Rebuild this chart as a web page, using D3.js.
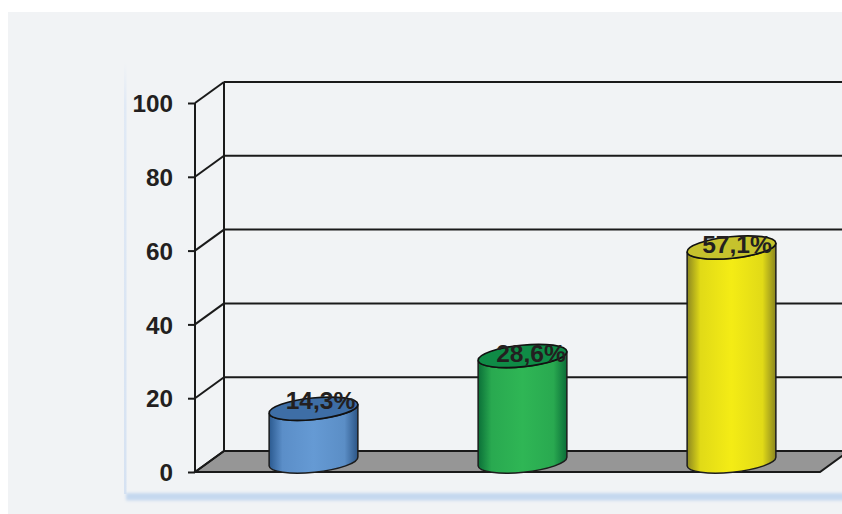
<!DOCTYPE html>
<html>
<head>
<meta charset="utf-8">
<script src="https://cdn.jsdelivr.net/npm/d3@7.9.0/dist/d3.min.js"></script>
<style>
  html, body { margin: 0; padding: 0; background: #fff; overflow: hidden; }
  svg { display: block; font-family: "Liberation Sans", Arial, sans-serif; }
  .axis path { display: none; }
  .axis line, .wall { stroke: #1a1a1a; stroke-width: 2; }
  .axis text { font-size: 24.3px; font-weight: bold; fill: #231f20; }
  .label { font-size: 24.6px; font-weight: bold; fill: #231f20; text-anchor: middle; }
</style>
</head>
<body>
<div id="chart"></div>
<script>
const categories = ['blue', 'green', 'yellow'];
// bar heights, the printed labels differ slightly
const values = [14.3, 28.6, 58];
const labels = ['14,3%', '28,6%', '57,1%'];
const yTicks = [0, 20, 40, 60, 80, 100];
const bodyColors = [
  ['#2b5a90', '#659ad4', '#2c5586'],
  ['#0b7038', '#2fb655', '#0b6d38'],
  ['#8d8820', '#f4ec15', '#8a8620'],
];
const topColors = ['#3e6ea6', '#0f8b46', '#c6c22d'];
// labels sit a little off centre in the original
const labelNudge = [[7, 0.5], [8.5, 6], [5.5, 5.5]];

const width = 842;
const height = 514;
const depth = { x: 29, y: -21 };
const plot = { left: 195, right: 820, bottom: 472, top: 103 };

const svg = d3.select('#chart').append('svg').attr('width', width).attr('height', height);
const defs = svg.append('defs');

defs.append('filter').attr('id', 'soft')
  .attr('x', '-20%').attr('y', '-100%').attr('width', '140%').attr('height', '300%')
  .append('feGaussianBlur').attr('stdDeviation', 1.5);

const topFade = defs.append('linearGradient').attr('id', 'edgeFade')
  .attr('x1', 0).attr('x2', 0).attr('y1', 0).attr('y2', 1);
topFade.append('stop').attr('offset', 0).attr('stop-color', '#e0e9f5').attr('stop-opacity', 0);
topFade.append('stop').attr('offset', 0.1).attr('stop-color', '#e0e9f5');
topFade.append('stop').attr('offset', 1).attr('stop-color', '#d6e2f2');

categories.forEach((c, i) => {
  const g = defs.append('linearGradient').attr('id', `body-${c}`);
  const [edgeL, mid, edgeR] = bodyColors[i];
  g.append('stop').attr('offset', 0).attr('stop-color', edgeL);
  g.append('stop').attr('offset', 0.15).attr('stop-color', d3.interpolateRgb(edgeL, mid)(0.82));
  g.append('stop').attr('offset', 0.5).attr('stop-color', mid);
  g.append('stop').attr('offset', 0.85).attr('stop-color', d3.interpolateRgb(edgeR, mid)(0.82));
  g.append('stop').attr('offset', 1).attr('stop-color', edgeR);
});

// panel behind everything, it runs off the right and bottom of the page
svg.append('rect').attr('x', 8).attr('y', 12).attr('width', width).attr('height', height).attr('fill', '#f1f3f5');
svg.append('rect').attr('x', 124).attr('y', 62).attr('width', 2.5).attr('height', 432)
  .attr('fill', 'url(#edgeFade)');
svg.append('rect').attr('x', 126).attr('y', 493).attr('width', width).attr('height', 7.5)
  .attr('fill', '#c5d8ef').attr('filter', 'url(#soft)');

const y = d3.scaleLinear().domain([0, 100]).range([plot.bottom, plot.top]);
const x = d3.scaleBand().domain(categories).range([209, 836]);

// floor
const floor = d3.line()([
  [plot.left, plot.bottom],
  [plot.left + depth.x, plot.bottom + depth.y],
  [plot.right + depth.x, plot.bottom + depth.y],
  [plot.right, plot.bottom],
]) + 'Z';
svg.append('path').attr('class', 'wall').attr('d', floor).attr('fill', '#969696');

// walls and gridlines
const walls = svg.append('g');
walls.selectAll('line.grid').data(yTicks.filter((t) => t > 0)).join('line')
  .attr('class', 'wall grid')
  .attr('x1', plot.left + depth.x).attr('x2', plot.right + depth.x)
  .attr('y1', (d) => y(d) + depth.y).attr('y2', (d) => y(d) + depth.y);
walls.selectAll('line.side').data(yTicks).join('line')
  .attr('class', 'wall side')
  .attr('x1', plot.left).attr('x2', plot.left + depth.x)
  .attr('y1', (d) => y(d)).attr('y2', (d) => y(d) + depth.y);
walls.append('line').attr('class', 'wall')
  .attr('x1', plot.left).attr('x2', plot.left).attr('y1', y(0)).attr('y2', y(100));
walls.append('line').attr('class', 'wall')
  .attr('x1', plot.left + depth.x).attr('x2', plot.left + depth.x)
  .attr('y1', y(0) + depth.y).attr('y2', y(100) + depth.y);

const axis = svg.append('g').attr('class', 'axis').attr('transform', `translate(${plot.left},0)`)
  .call(d3.axisLeft(y).tickValues(yTicks).tickSize(7).tickPadding(15));
axis.selectAll('text').attr('dy', '0.36em');

// cylinders: tilted ellipses, centred halfway into the depth
const rx = 44.6;
const ry = 10.8;
const tilt = -5.8;
const dx = rx * Math.cos(tilt * Math.PI / 180);
const dy = rx * Math.sin(tilt * Math.PI / 180);
const centre = (d) => x(d) + x.bandwidth() / 2;
const baseY = y(0) + depth.y / 2;

const bars = svg.append('g').selectAll('g').data(categories).join('g');

bars.append('path')
  .attr('d', (d, i) => {
    const cx = centre(d);
    const topY = y(values[i]) + depth.y / 2;
    return `M${cx - dx},${topY - dy}L${cx - dx},${baseY - dy}`
      + `A${rx},${ry} ${tilt} 0 0 ${cx + dx},${baseY + dy}`
      + `L${cx + dx},${topY + dy}`
      + `A${rx},${ry} ${tilt} 0 1 ${cx - dx},${topY - dy}Z`;
  })
  .attr('fill', (d) => `url(#body-${d})`)
  .attr('stroke', '#1c1c1c').attr('stroke-width', 1.5);

bars.append('ellipse')
  .attr('rx', rx).attr('ry', ry)
  .attr('transform', (d, i) => `translate(${centre(d)},${y(values[i]) + depth.y / 2}) rotate(${tilt})`)
  .attr('fill', (d, i) => topColors[i])
  .attr('stroke', '#111').attr('stroke-width', 1.7);

bars.append('text').attr('class', 'label')
  .attr('x', (d, i) => centre(d) + labelNudge[i][0])
  .attr('y', (d, i) => y(values[i]) + depth.y / 2 + labelNudge[i][1])
  .text((d, i) => labels[i]);
</script>
</body>
</html>
